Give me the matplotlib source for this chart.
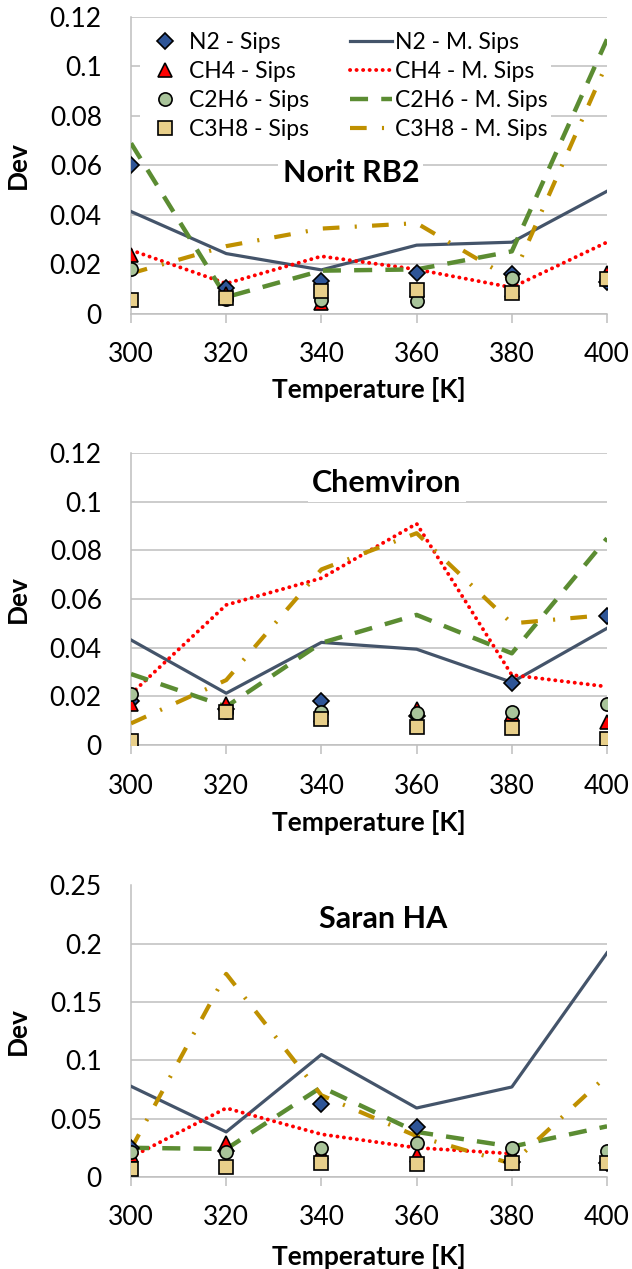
import numpy as np
import matplotlib
matplotlib.use("Agg")
import matplotlib.pyplot as plt

plt.rcParams['font.family'] = ['Lato', 'DejaVu Sans']
plt.rcParams['lines.scale_dashes'] = False

# temperatures [K]
T = [300, 320, 340, 360, 380, 400]
gases = ['N2', 'CH4', 'C2H6', 'C3H8']

# rows: N2, CH4, C2H6, C3H8
rb2_sips = [[0.060, 0.0105, 0.0132, 0.0166, 0.016, 0.013],
            [0.0237, 0.008, 0.0044, 0.0098, 0.0098, 0.0166],
            [0.018, 0.006, 0.0057, 0.0054, 0.0146, 0.014],
            [0.0057, 0.0064, 0.0094, 0.0098, 0.0084, 0.014]]
rb2_msips = [[0.0414, 0.0244, 0.0178, 0.0278, 0.029, 0.0496],
             [0.0258, 0.0123, 0.0233, 0.018, 0.0107, 0.029],
             [0.069, 0.0068, 0.0175, 0.018, 0.0253, 0.111],
             [0.0164, 0.0274, 0.0345, 0.0367, 0.014, 0.1014]]

chem_sips = [[0.018, 0.015, 0.0182, 0.012, 0.0253, 0.053],
             [0.0169, 0.0169, 0.0125, 0.0149, 0.0128, 0.0095],
             [0.0209, 0.0135, 0.0135, 0.013, 0.0135, 0.0169],
             [0.0016, 0.0135, 0.0108, 0.0074, 0.0072, 0.0024]]
chem_msips = [[0.0432, 0.0213, 0.0422, 0.0394, 0.0258, 0.048],
              [0.021, 0.0576, 0.0686, 0.091, 0.0288, 0.024],
              [0.0292, 0.0158, 0.042, 0.0535, 0.0377, 0.085],
              [0.0089, 0.0267, 0.0722, 0.0871, 0.050, 0.0535]]

saran_sips = [[0.0246, 0.022, 0.0623, 0.0426, 0.013, 0.012],
              [0.019, 0.029, 0.0217, 0.0189, 0.020, 0.015],
              [0.0217, 0.0217, 0.0246, 0.0289, 0.0246, 0.0226],
              [0.0066, 0.0089, 0.0117, 0.0109, 0.0117, 0.0123]]
saran_msips = [[0.0777, 0.0386, 0.1049, 0.0591, 0.0771, 0.192],
               [0.017, 0.059, 0.0366, 0.025, 0.020, np.nan],
               [0.025, 0.024, 0.077, 0.0386, 0.026, 0.0434],
               [0.024, 0.174, 0.070, 0.035, 0.0114, 0.087]]

titles = ['Norit RB2', 'Chemviron', 'Saran HA']
ymax = [0.12, 0.12, 0.25]
ystep = [0.02, 0.02, 0.05]

marker_styles = [dict(marker='D', ms=8, mfc='#2E5597'),
                 dict(marker='^', ms=9.5, mfc='#FF0000'),
                 dict(marker='o', ms=9.5, mfc='#A9C49A'),
                 dict(marker='s', ms=9.5, mfc='#E8CF8A')]
line_styles = [dict(color='#44546A', lw=2.3, ls='-'),
               dict(color='#FF0000', lw=2.8, ls=(0, (0.1, 4.6)), dash_capstyle='round'),
               dict(color='#5B8C32', lw=3.2, ls=(0, (13, 9.5))),
               dict(color='#BF9000', lw=3.0, ls=(0, (12, 11, 1.5, 11)))]

fig = plt.figure(figsize=(6.32, 12.69), dpi=100)
axes_pos = [[0.2073, 0.7526, 0.7532, 0.234],
            [0.2073, 0.4129, 0.7532, 0.230],
            [0.2073, 0.0725, 0.7532, 0.230]]
title_pos = [(0.462, 0.475), (0.538, 0.897), (0.529, 0.885)]
xlabel_y = [-0.212, -0.222, -0.229]

data = [(rb2_sips, rb2_msips), (chem_sips, chem_msips), (saran_sips, saran_msips)]

for k in range(3):
    ax = fig.add_axes(axes_pos[k])
    sips, msips = data[k]
    handles_m = []
    handles_l = []
    for g in range(4):
        l, = ax.plot(T, msips[g], zorder=3, label=gases[g] + ' - M. Sips', **line_styles[g])
        handles_l.append(l)
    for g in range(4):
        m, = ax.plot(T, sips[g], ls='none', mec='black', mew=1.2, zorder=4,
                     label=gases[g] + ' - Sips', **marker_styles[g])
        handles_m.append(m)

    ax.set_xlim(300, 400)
    ax.set_ylim(0, ymax[k])
    ax.set_xticks(T)
    yt = np.arange(0, ymax[k] + 1e-9, ystep[k])
    ax.set_yticks(yt)
    ax.set_yticklabels(['{:g}'.format(round(v, 3)) for v in yt])
    ax.grid(axis='y', color='#BFBFBF', lw=1.1, zorder=0)
    ax.set_axisbelow(True)
    if k == 2:
        ax.get_ygridlines()[-1].set_visible(False)
    for s in ['top', 'right']:
        ax.spines[s].set_visible(False)
    ax.spines['left'].set_color('#BFBFBF')
    ax.spines['bottom'].set_color('#BFBFBF')
    ax.spines['left'].set_linewidth(1.1)
    ax.spines['bottom'].set_linewidth(1.1)
    ax.tick_params(axis='x', length=6.5, width=1.1, color='#BFBFBF', pad=14, labelsize=19)
    ax.tick_params(axis='y', length=0, pad=21, labelsize=19)
    ax.set_xlabel('Temperature [K]', fontsize=19, fontweight='bold')
    ax.set_ylabel('Dev', fontsize=19, fontweight='bold')
    ax.xaxis.set_label_coords(0.5, xlabel_y[k])
    ax.yaxis.set_label_coords(-0.212, 0.5)

    ax.text(title_pos[k][0], title_pos[k][1], titles[k], transform=ax.transAxes,
            ha='center', va='center', fontsize=22, fontweight='bold', zorder=5,
            bbox=dict(facecolor='white', edgecolor='none', pad=3))

    if k == 0:
        leg = ax.legend(handles_m + handles_l, [h.get_label() for h in handles_m + handles_l],
                        ncol=2, loc='upper left', bbox_to_anchor=(0.019, 0.962),
                        fontsize=16.5, frameon=True, fancybox=False, framealpha=1,
                        edgecolor='none', facecolor='white', borderpad=0.15,
                        borderaxespad=0, handlelength=1.85, handletextpad=0.15,
                        columnspacing=1.75, labelspacing=0.35)
        leg.set_zorder(6)

fig.savefig('out.png', dpi=100)
